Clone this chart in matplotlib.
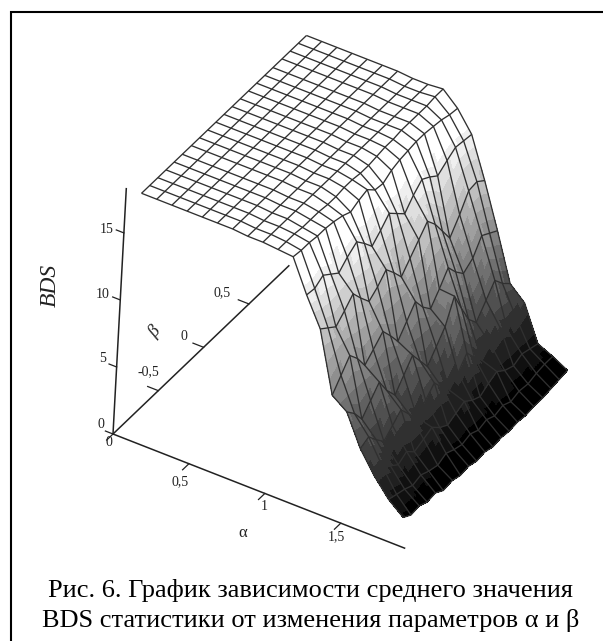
import matplotlib
matplotlib.use("Agg")
import matplotlib.pyplot as plt
import numpy as np
from matplotlib.colors import ListedColormap
from matplotlib.lines import Line2D
from mpl_toolkits.mplot3d import proj3d

W, H = 603, 641
SERIF = "Liberation Serif"

alpha = [0.1, 0.2, 0.3, 0.4, 0.5, 0.6, 0.7, 0.8, 0.9, 1.0, 1.1,
         1.2, 1.3, 1.4, 1.5, 1.6, 1.7, 1.8, 1.9]
beta = [-1.0, -0.91, -0.82, -0.73, -0.64, -0.55, -0.45, -0.36, -0.27, -0.18, -0.09,
        0.0, 0.09, 0.18, 0.27, 0.36, 0.45, 0.55, 0.64, 0.73, 0.82]
bds = [
    [18.4]*21,
    [18.4]*21,
    [18.4]*21,
    [18.4]*21,
    [18.4]*21,
    [18.4]*21,
    [18.4]*21,
    [18.3]*21,
    [18.3]*21,
    [18.2, 18.2, 18.2, 18.1, 18.1, 18.1, 18.0, 18.0, 18.1, 18.1, 18.0, 18.0, 18.1, 18.2, 18.2, 18.3, 18.3, 18.3, 18.3, 18.4, 18.4],
    [18.1, 18.0, 18.0, 17.9, 17.9, 17.8, 17.6, 17.3, 17.6, 17.8, 17.2, 17.1, 17.5, 17.7, 17.8, 17.9, 17.9, 17.8, 17.7, 17.5, 17.4],
    [15.7, 15.6, 16.0, 15.5, 15.0, 15.6, 16.1, 15.4, 14.6, 15.2, 15.9, 15.3, 14.7, 15.5, 16.1, 15.7, 15.2, 15.7, 16.1, 16.0, 15.9],
    [13.6, 13.1, 12.6, 13.2, 13.9, 13.0, 12.1, 12.6, 13.3, 12.5, 11.6, 12.4, 13.2, 14.0, 13.2, 12.1, 11.0, 12.1, 13.3, 13.4, 12.9],
    [9.1, 10.0, 10.9, 10.1, 9.0, 9.6, 10.3, 9.4, 8.4, 9.3, 10.2, 9.2, 8.5, 9.4, 10.4, 9.5, 8.8, 9.3, 10.4, 10.0, 9.6],
    [8.3, 7.6, 6.6, 7.4, 8.2, 7.0, 6.0, 6.9, 7.8, 6.8, 5.8, 6.7, 7.6, 9.3, 7.8, 6.4, 5.6, 6.6, 7.5, 6.7, 6.1],
    [6.0, 6.3, 5.5, 4.8, 5.4, 6.0, 5.0, 4.2, 4.9, 5.6, 4.7, 3.9, 4.6, 5.5, 4.6, 3.8, 4.4, 5.0, 4.2, 4.6, 5.1],
    [4.4, 4.5, 4.0, 3.5, 3.9, 3.3, 3.6, 3.9, 3.3, 2.9, 3.2, 3.5, 3.0, 2.7, 3.1, 3.4, 2.9, 2.6, 2.9, 2.7, 2.5],
    [3.1, 2.9, 2.7, 2.4, 2.6, 2.3, 2.1, 2.4, 2.1, 1.9, 2.1, 1.8, 2.0, 1.7, 1.9, 1.6, 1.8, 1.7, 1.9, 2.0, 2.0],
    [2.2, 1.8, 1.9, 1.6, 1.7, 1.3, 1.4, 1.2, 1.3, 1.1, 1.2, 1.0, 1.1, 1.0, 1.1, 1.0, 1.1, 1.1, 1.2, 1.3, 1.4],
]
z_ticks = [0, 5, 10, 15]
z_tick_labels = ["0", "5", "10", "15"]
beta_ticks = [-0.5, 0, 0.5]
beta_tick_labels = ["-0,5", "0", "0,5"]
alpha_ticks = [0, 0.5, 1, 1.5]
alpha_tick_labels = ["0", "0,5", "1", "1,5"]
caption = ["Рис. 6. График зависимости среднего значения",
           "BDS статистики от изменения параметров α и β"]

A, B = np.meshgrid(alpha, beta, indexing="ij")
Z = np.array(bds)


def refine(m, n=4):
    """Bilinear subdivision used only to render the shading smoothly."""
    r, c = m.shape
    ri = np.linspace(0, r - 1, (r - 1) * n + 1)
    ci = np.linspace(0, c - 1, (c - 1) * n + 1)
    i0 = np.minimum(ri.astype(int), r - 2)
    j0 = np.minimum(ci.astype(int), c - 2)
    fi = (ri - i0)[:, None]
    fj = (ci - j0)[None, :]
    return (m[i0][:, j0] * (1 - fi) * (1 - fj) + m[i0 + 1][:, j0] * fi * (1 - fj)
            + m[i0][:, j0 + 1] * (1 - fi) * fj + m[i0 + 1][:, j0 + 1] * fi * fj)


fig = plt.figure(figsize=(W / 100, H / 100), dpi=100, facecolor="white")
ax = fig.add_axes([0, 0, 1, 1], projection="3d", proj_type="ortho")
ax.computed_zorder = False
ax.set_axis_off()
ax.patch.set_alpha(0)
ax.view_init(elev=36.4, azim=-60.9, roll=-3.1)
ax.set_xlim(0, 1.92)
ax.set_ylim(-1, 0.94)
ax.set_zlim(0, 18)

bands = ListedColormap(np.repeat(np.linspace(0, 1, 17)[:, None], 3, axis=1))
Af, Bf, Zf = refine(A), refine(B), refine(Z)
Zc = 0.25 * (Zf[:-1, :-1] + Zf[1:, :-1] + Zf[:-1, 1:] + Zf[1:, 1:])
shade = np.clip((Zc - 1.3) / (17.2 - 1.3), 0, 1)
ax.plot_surface(Af, Bf, Zf, rstride=1, cstride=1, facecolors=bands(shade),
                shade=False, linewidth=0, antialiased=False, zorder=2)
ax.plot_wireframe(A, B, Z, rstride=1, cstride=1, color="#303030", linewidth=0.95, zorder=5)

axis_color = "#222222"
ax.plot([0, 1.92], [-1, -1], [0, 0], color=axis_color, lw=1.1, zorder=6)
ax.plot([0, 0], [-1, 0.94], [0, 0], color=axis_color, lw=1.1, zorder=6)
ax.plot([0, 0], [-1, -1], [0, 18.3], color=axis_color, lw=1.1, zorder=6)
for t in z_ticks:
    ax.plot([0, -0.05], [-1, -1], [t, t], color=axis_color, lw=0.9, zorder=6)
for t in beta_ticks:
    ax.plot([0, -0.07], [t, t], [0, 0], color=axis_color, lw=0.9, zorder=6)
for t in alpha_ticks:
    ax.plot([t, t], [-1, -1.07], [0, 0], color=axis_color, lw=0.9, zorder=6)


def to_px(x, y, z):
    X, Y, _ = proj3d.proj_transform(x, y, z, ax.get_proj())
    return ax.transData.transform((X, Y))


# Fit the orthographic view so the axes land on their reference pixels
ax.set_box_aspect((340, 342, 300), zoom=1.0)
fig.canvas.draw()
span = np.linalg.norm(to_px(1.92, -1, 0) - to_px(0, -1, 0))
ax.set_box_aspect((340, 342, 300), zoom=np.hypot(292, 113) / span)
fig.canvas.draw()
o = to_px(0, -1, 0)
ax.set_position([(113 - o[0]) / W, (H - 434 - o[1]) / H, 1, 1])


def px_text(x, y, s, **kw):
    kw.setdefault("family", SERIF)
    kw.setdefault("color", "#222222")
    kw.setdefault("fontsize", 10)
    fig.text(x / W, 1 - y / H, s, ha="center", va="center", **kw)


for (x, y), s in zip([(101, 424), (103, 359), (103, 294), (107, 229)], z_tick_labels):
    px_text(x, y, s)
for (x, y), s in zip([(148, 372), (184, 337), (222, 293)], beta_tick_labels):
    px_text(x, y, s)
for (x, y), s in zip([(109, 443), (180, 482), (264, 506), (336, 537)], alpha_tick_labels):
    px_text(x, y, s)
px_text(50, 285, "BDS", style="italic", rotation=90, fontsize=17)
px_text(155, 332, "β", style="italic", rotation=50, fontsize=13)
px_text(243, 533, "α", fontsize=12)
px_text(311, 591, caption[0], fontsize=19, color="black")
px_text(311, 621, caption[1], fontsize=19, color="black")

fig.add_artist(Line2D([10.5 / W, 10.5 / W, 1], [0, 1 - 12 / H, 1 - 12 / H], transform=fig.transFigure,
                      color="black", linewidth=1.5, solid_joinstyle="miter"))
fig.savefig("out.png", dpi=100)
